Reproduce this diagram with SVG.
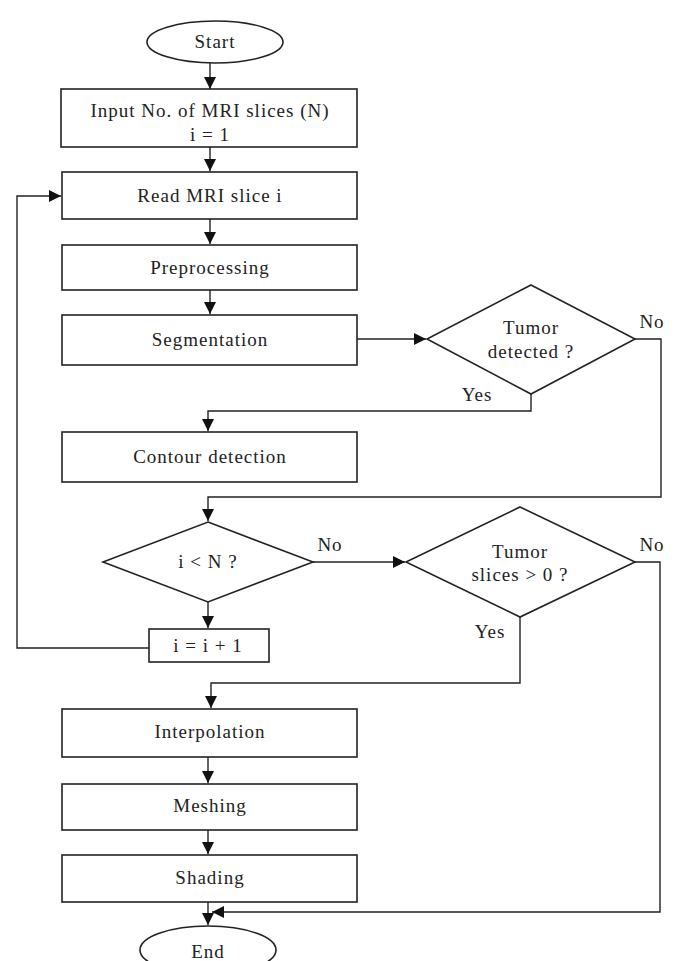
<svg xmlns="http://www.w3.org/2000/svg" width="678" height="961" viewBox="0 0 678 961">
<defs>
<marker id="ah" viewBox="0 0 12 12" refX="12" refY="6" markerWidth="12" markerHeight="12" markerUnits="userSpaceOnUse" orient="auto">
<path d="M0,0 L12,6 L0,12 z" fill="#111"/>
</marker>
</defs>
<style>
.b{fill:#fff;stroke:#222;stroke-width:1.6}
.t{font-family:"Liberation Serif","Times New Roman",serif;font-size:19px;letter-spacing:1px;fill:#222;text-anchor:middle}
.c{fill:none;stroke:#222;stroke-width:1.4}
</style>
<rect width="678" height="961" fill="#fff"/>
<g id="connectors">
<path class="c" d="M210,63 V89" marker-end="url(#ah)"/>
<path class="c" d="M210,147 V171" marker-end="url(#ah)"/>
<path class="c" d="M210,219 V244" marker-end="url(#ah)"/>
<path class="c" d="M210,290 V314" marker-end="url(#ah)"/>
<path class="c" d="M357,339 H426" marker-end="url(#ah)"/>
<path class="c" d="M531,394 V411 H208 V431" marker-end="url(#ah)"/>
<path class="c" d="M635,339 H661 V497 H208 V521" marker-end="url(#ah)"/>
<path class="c" d="M313,562 H405" marker-end="url(#ah)"/>
<path class="c" d="M208,602 V628" marker-end="url(#ah)"/>
<path class="c" d="M149,648 H17 V196 H61" marker-end="url(#ah)"/>
<path class="c" d="M520,617 V683 H211 V708" marker-end="url(#ah)"/>
<path class="c" d="M208,757 V783" marker-end="url(#ah)"/>
<path class="c" d="M208,830 V854" marker-end="url(#ah)"/>
<path class="c" d="M208,902 V925" marker-end="url(#ah)"/>
<path class="c" d="M635,562 H660 V912 H212" marker-end="url(#ah)"/>
<text class="t" x="652" y="328">No</text>
<text class="t" x="477" y="401">Yes</text>
<text class="t" x="330" y="551">No</text>
<text class="t" x="652" y="551">No</text>
<text class="t" x="490" y="638">Yes</text>
</g>
<g id="start">
<ellipse class="b" cx="215" cy="42" rx="68" ry="21"/>
<text class="t" x="215" y="48">Start</text>
</g>
<g id="input">
<rect class="b" x="61" y="89" width="296" height="58"/>
<text class="t" x="210" y="117">Input No. of MRI slices (N)</text>
<text class="t" x="210" y="141">i = 1</text>
</g>
<g id="read">
<rect class="b" x="62" y="172" width="295" height="47"/>
<text class="t" x="210" y="202">Read MRI slice i</text>
</g>
<g id="preprocessing">
<rect class="b" x="62" y="245" width="295" height="45"/>
<text class="t" x="210" y="274">Preprocessing</text>
</g>
<g id="segmentation">
<rect class="b" x="62" y="315" width="295" height="50"/>
<text class="t" x="210" y="346">Segmentation</text>
</g>
<g id="tumor-detected">
<polygon class="b" points="531,285 635,339 531,394 427,339"/>
<text class="t" x="531" y="334">Tumor</text>
<text class="t" x="531" y="358">detected ?</text>
</g>
<g id="contour">
<rect class="b" x="62" y="432" width="295" height="50"/>
<text class="t" x="210" y="463">Contour detection</text>
</g>
<g id="i-less-n">
<polygon class="b" points="208,522 313,562 208,602 103,562"/>
<text class="t" x="208" y="568">i &lt; N ?</text>
</g>
<g id="tumor-slices">
<polygon class="b" points="520,507 635,562 520,617 406,562"/>
<text class="t" x="520" y="558">Tumor</text>
<text class="t" x="520" y="581">slices &gt; 0 ?</text>
</g>
<g id="increment">
<rect class="b" x="149" y="629" width="120" height="33"/>
<text class="t" x="208" y="652">i = i + 1</text>
</g>
<g id="interpolation">
<rect class="b" x="62" y="709" width="295" height="48"/>
<text class="t" x="210" y="738">Interpolation</text>
</g>
<g id="meshing">
<rect class="b" x="62" y="784" width="295" height="46"/>
<text class="t" x="210" y="812">Meshing</text>
</g>
<g id="shading">
<rect class="b" x="62" y="855" width="295" height="47"/>
<text class="t" x="210" y="884">Shading</text>
</g>
<g id="end">
<ellipse class="b" cx="208" cy="950" rx="68" ry="24"/>
<text class="t" x="208" y="958">End</text>
</g>
</svg>
